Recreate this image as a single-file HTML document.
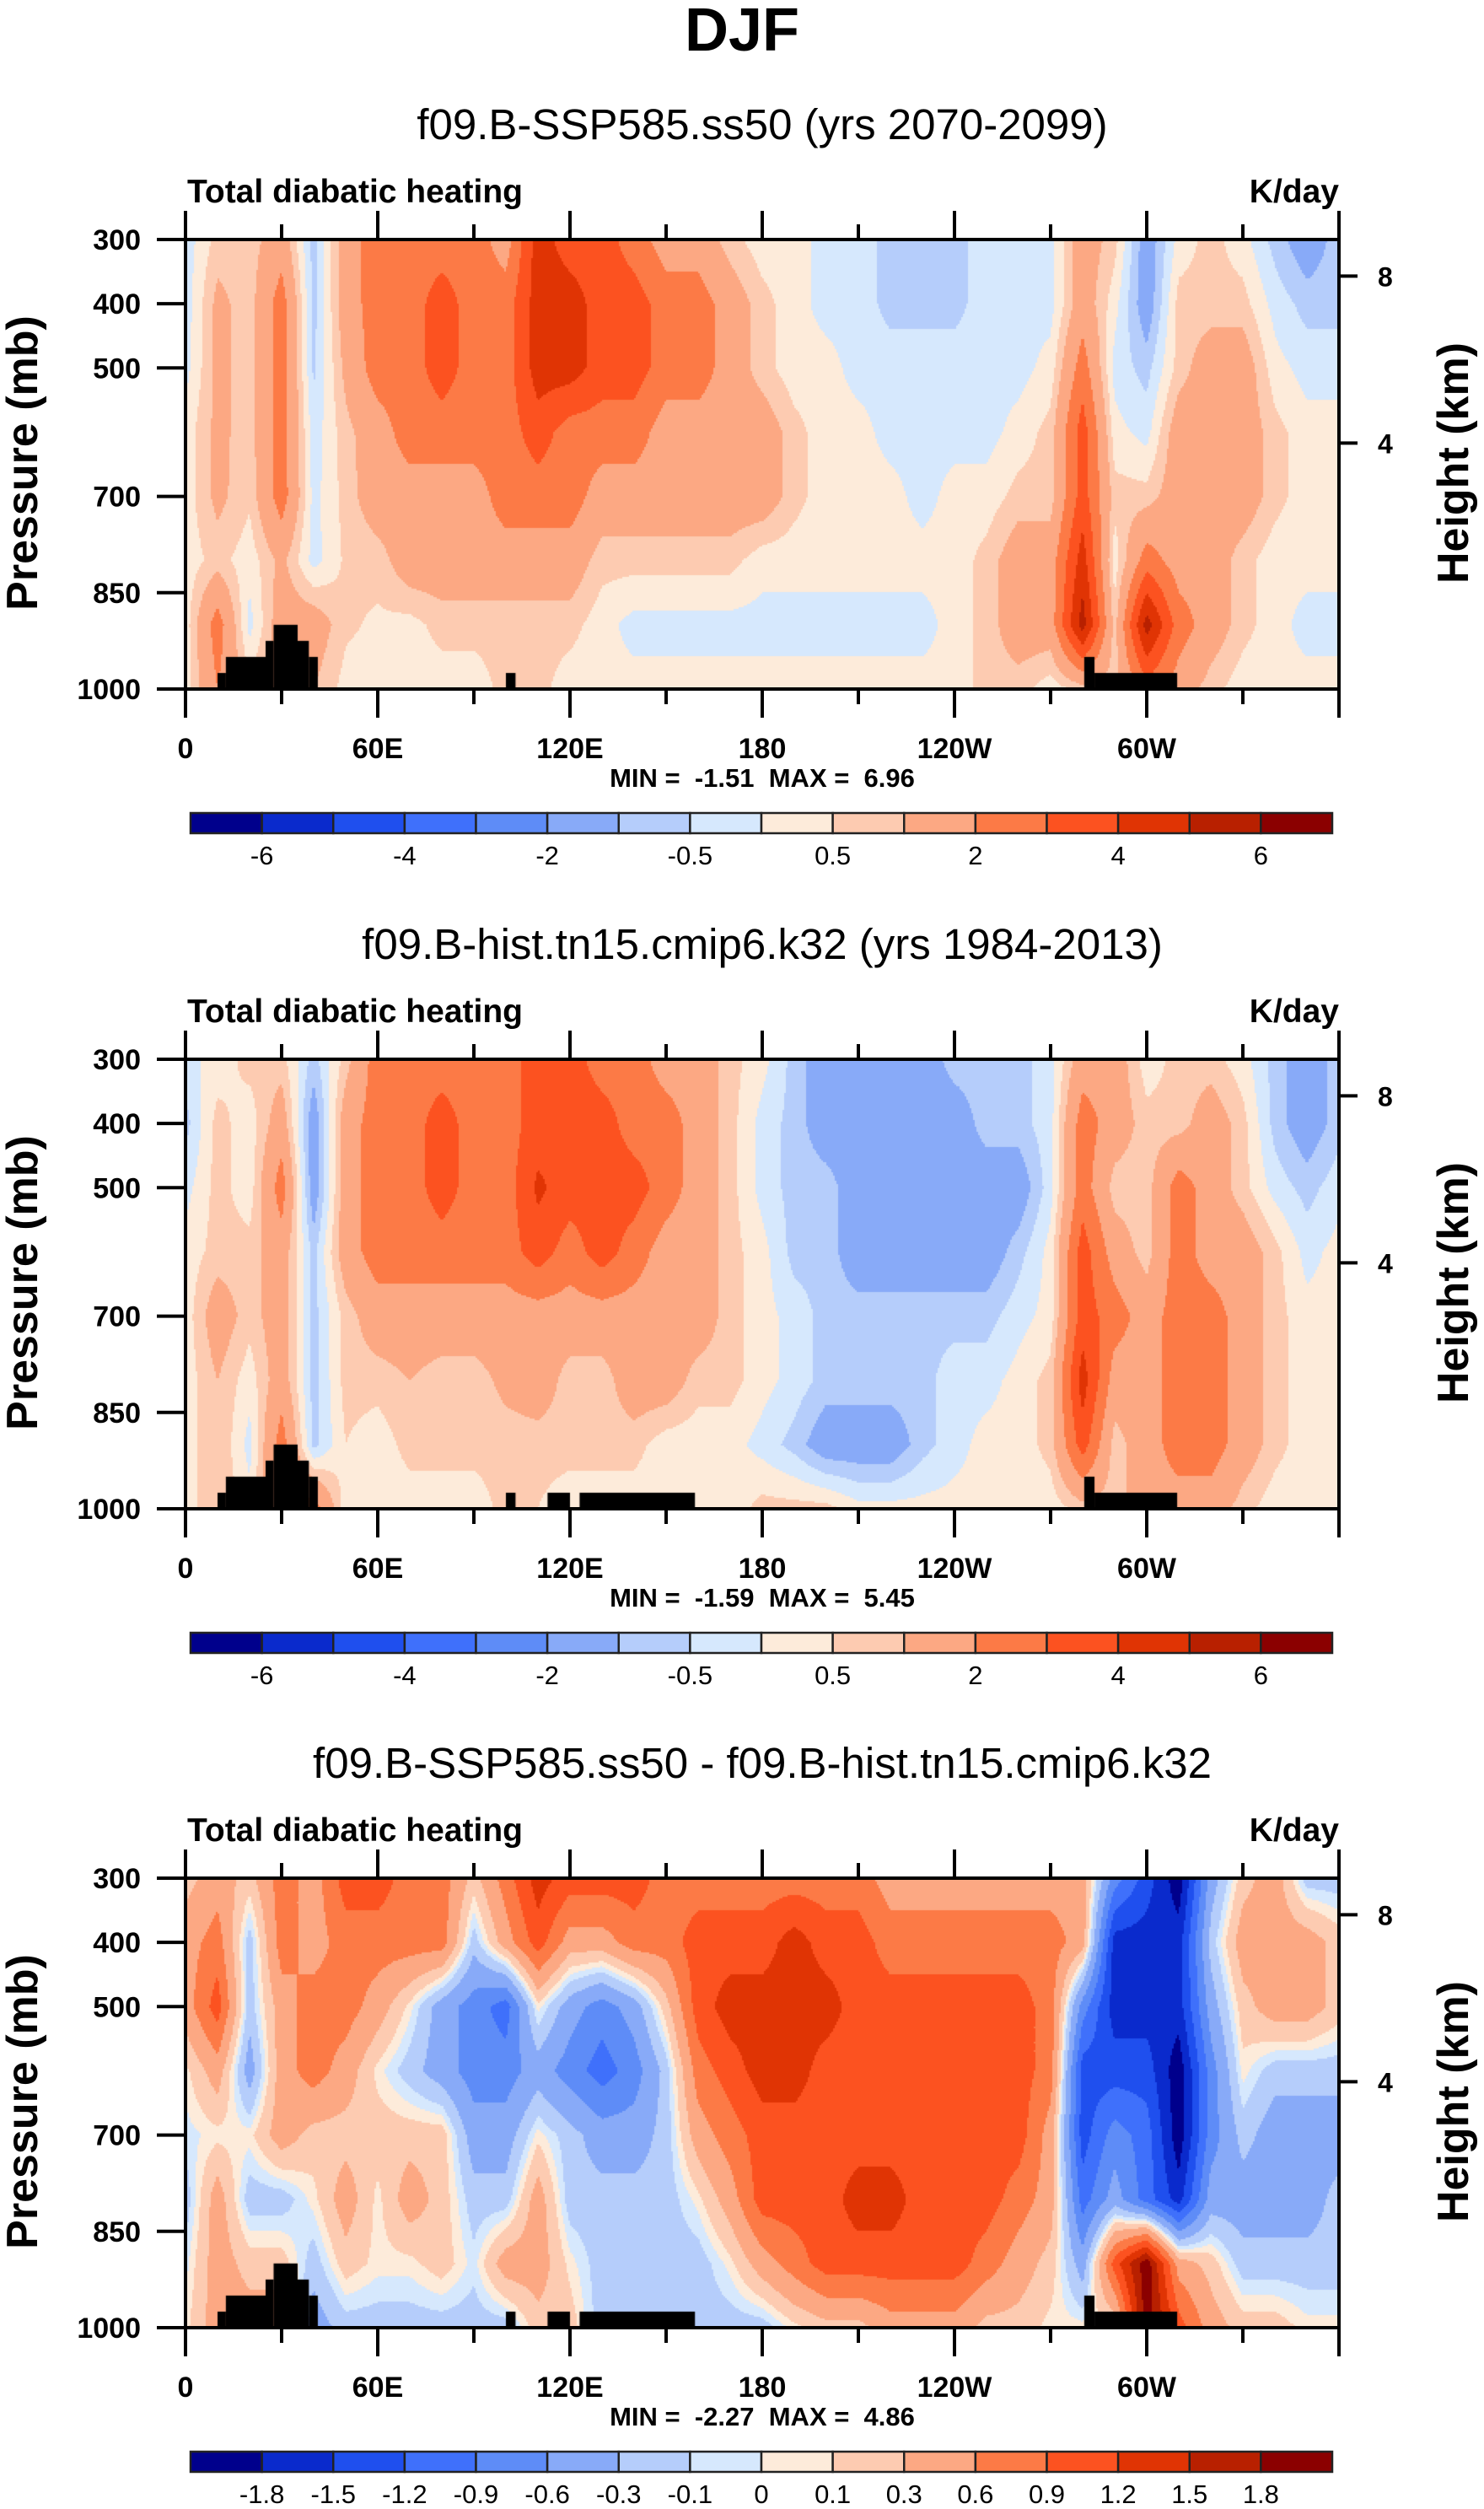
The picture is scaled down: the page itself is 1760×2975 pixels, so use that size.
<!DOCTYPE html>
<html><head><meta charset="utf-8">
<style>
html,body{margin:0;padding:0;background:#fff;}
body{width:1760px;height:2975px;position:relative;overflow:hidden;font-family:"Liberation Sans",sans-serif;}
canvas{position:absolute;}
svg{position:absolute;left:0;top:0;}
</style></head>
<body>
<canvas id="c0" width="1368" height="533" style="left:220px;top:284px"></canvas>
<canvas id="c1" width="1368" height="533" style="left:220px;top:1256px"></canvas>
<canvas id="c2" width="1368" height="533" style="left:220px;top:2227px"></canvas>
<svg id="ov" width="1760" height="2975"></svg>
<script>
const lons=[0,10,20,30,40,50,60,70,80,90,100,110,120,130,140,150,160,170,180,190,200,210,220,230,240,250,260,270,280,290,300,310,320,330,340,350,360];
const pres=[300,400,500,600,700,800,900,1000];
const levelsAbs=[-6,-5,-4,-3,-2,-1,-0.5,0,0.5,1,2,3,4,5,6];
const levelsDiff=[-1.8,-1.5,-1.2,-0.9,-0.6,-0.3,-0.1,0,0.1,0.3,0.6,0.9,1.2,1.5,1.8];
const tickAbs=["-6","-4","-2","-0.5","0.5","2","4","6"];
const tickAbsIdx=[0,2,4,6,8,10,12,14];
const tickDiff=["-1.8","-1.5","-1.2","-0.9","-0.6","-0.3","-0.1","0","0.1","0.3","0.6","0.9","1.2","1.5","1.8"];
const palette=["#00008c","#0a2acc","#1f4fee","#3f70fb","#5e8cf7","#88aaf8","#b5cdfb","#d6e8fd","#fdebda","#fdcbb1","#fca883","#fc7a46","#fc5220","#e03404","#b82000","#8b0000"];
const xTickLon=[0,60,120,180,240,300];
const xTickLbl=["0","60E","120E","180","120W","60W"];
const yTickP=[300,400,500,700,850,1000];
const hTickKm=["8","4"];
const hTickP=[357,617];
const subtitles=["f09.B-SSP585.ss50 (yrs 2070-2099)","f09.B-hist.tn15.cmip6.k32 (yrs 1984-2013)","f09.B-SSP585.ss50 - f09.B-hist.tn15.cmip6.k32"];
const minVals=["-1.51","-1.59","-2.27"];
const maxVals=["6.96","5.45","4.86"];
const topoA0=[10,12.6,25,27.5,35,38.5,100,280.5,283.7];
const topoA1=[12.6,25,27.5,35,38.5,41.3,103,283.7,309.5];
const topoAP=[975,950,925,900,925,950,975,950,975];
const topoB0=[10,12.6,25,27.5,35,38.5,100,113,123,280.5,283.7];
const topoB1=[12.6,25,27.5,35,38.5,41.3,103,120,159,283.7,309.5];
const topoBP=[975,950,925,900,925,950,975,975,975,950,975];
const fieldFuture=[
[-0.3,-0.3,-0.2,0.2,0.2,0.2,0.2,0.2],[0.7,1.2,1.2,1.2,1.2,0.7,2.5,2],[0.7,0.7,0.7,0.7,0.6,0.2,-0.2,0.7],
[1.5,2.5,2.5,2.5,2.5,1.2,1.5,1.5],[-0.7,-0.7,-0.6,-0.3,-0.2,-0.2,1.5,1],[1.5,1.5,1.2,0.8,0.7,0.6,0.6,0.3],
[2.5,2.5,2.5,1.5,1.5,0.7,0.4,0.2],[2.5,2.5,2.5,2.5,1.5,1.5,0.3,0.2],[2.5,3.5,3.5,2.5,1.5,1.5,0.7,0.2],
[2.5,2.5,2.5,2.5,1.5,1.5,0.7,0.2],[1.5,2.5,2.5,2.5,2.5,1.5,0.7,0.7],[4.5,4.5,4.5,3.5,2.5,1.5,0.7,0.7],
[3.5,4.5,4.5,2.5,2.5,1.5,0.7,0.2],[3.5,3.5,3.5,2.5,1.5,0.7,0.2,0.2],[2.5,3.5,3.5,2.5,1.5,0.7,-0.2,0.2],
[1.5,2.5,2.5,1.5,1.5,0.7,-0.2,0.2],[1.5,2.5,2.5,1.5,1.5,0.7,-0.2,0.2],[0.7,1.5,1.5,1.5,1.5,0.7,-0.2,0.2],
[0.2,0.7,0.7,1.5,1.5,0.2,-0.2,0.2],[0.2,0.2,0.2,0.7,0.7,0.2,-0.2,0.2],[-0.2,-0.2,0.2,0.2,0.2,0.2,-0.2,0.2],
[-0.2,-0.2,-0.2,0.2,0.2,0.2,-0.2,0.2],[-0.7,-0.7,-0.2,-0.2,0.2,0.2,-0.2,0.2],[-0.7,-0.7,-0.2,-0.2,-0.2,0.2,-0.2,0.2],
[-0.7,-0.7,-0.2,-0.2,0.2,0.2,0.2,0.2],[-0.2,-0.2,-0.2,-0.2,0.2,0.7,0.7,0.7],[-0.2,-0.2,-0.2,0.2,0.7,1.5,1.5,0.7],
[-0.2,-0.2,0.2,0.7,0.7,1.5,1.5,0.2],[1.5,1.5,2.5,3.5,3.5,4.5,5.5,0.7],[0.7,0.2,-0.2,0.2,0.7,0.2,0.7,0.7],
[-1.5,-1.5,-0.7,-0.2,0.7,2.5,5.5,2.5],[0.2,0.7,0.7,1.5,1.5,1.5,2.5,1.5],[0.7,0.7,1.5,1.5,1.5,1.5,1.5,0.7],
[0.2,0.7,1.5,1.5,1.5,0.7,0.7,0.2],[-0.7,-0.2,0.2,0.7,0.7,0.2,0.2,0.2],[-1.5,-0.7,-0.2,0.2,0.2,0.2,-0.2,0.2],
[-0.7,-0.7,-0.2,0.2,0.2,0.2,-0.2,0.2]];
const fieldHist=[
[-0.2,-0.7,-0.2,0.2,0.2,0.2,0.2,0.2],[0.2,0.7,0.7,0.7,1.5,1,1,1],[0.7,0.2,0.2,0.7,0.7,0.2,-0.2,0.2],
[0.7,1.5,2.5,1.5,1.5,1.5,2.5,2],[-0.7,-1.5,-1.5,-0.7,-0.7,-0.7,-0.7,2.5],[0.7,1.5,1.5,1.5,0.7,0.7,0.5,0.2],
[2.5,2.5,2.5,2.5,1.5,0.7,0.2,0.2],[2.5,2.5,2.5,2.5,1.5,1.0,0.7,0.2],[2.5,3.5,3.5,2.5,1.5,0.7,0.7,0.2],
[2.5,2.5,2.5,2.5,1.5,0.7,0.7,0.2],[2.5,2.5,2.5,2.5,1.5,1.2,0.7,0.7],[3.5,3.5,4.2,3.5,1.5,1.5,0.7,0.5],
[3.5,3.5,3.5,2.5,1.5,0.7,0.7,0.2],[2.5,3.5,3.5,3.5,1.5,0.7,0.7,0.2],[2.5,2.5,3.5,2.5,1.5,1.5,0.7,0.2],
[1.5,2.5,2.5,1.5,1.5,1.5,0.2,0.2],[1.5,1.5,1.5,1.5,1.5,0.7,0.2,0.2],[0.7,0.7,0.7,0.7,0.7,0.7,0.2,0.2],
[0.2,-0.2,-0.2,0.2,0.2,0.2,-0.2,0.7],[-0.7,-0.7,-0.7,-0.7,-0.2,-0.2,-0.7,0.7],[-1.5,-1.5,-0.7,-0.7,-0.7,-0.7,-1.5,0.7],
[-1.5,-1.5,-1.5,-1.5,-0.7,-0.7,-1.5,0.2],[-1.5,-1.5,-1.5,-1.5,-0.7,-0.7,-1.5,0.2],[-1.5,-1.5,-1.5,-1.5,-0.7,-0.7,-0.7,0.2],
[-0.7,-1.5,-1.5,-1.5,-0.7,-0.2,-0.2,0.2],[-0.7,-0.7,-1.5,-1.5,-0.7,-0.2,0.2,0.2],[-0.7,-0.7,-1.5,-0.7,-0.2,0.2,0.2,0.2],
[-0.2,-0.2,-0.2,0.2,0.2,0.7,0.7,0.2],[1.5,2.5,2.5,3.5,3.5,4.5,3.5,0.7],[1.5,1.5,0.7,1.5,2.5,1.5,0.7,0.7],
[0.2,0.7,0.7,0.7,1.5,1.5,1.5,1.5],[0.7,0.7,2.5,2.5,2.5,2.5,2.5,1.5],[0.7,1.5,1.5,1.5,2.5,2.5,2.5,1.5],
[0.2,0.7,0.7,1.5,1.5,1.5,1.5,0.7],[-0.7,-0.7,-0.2,0.7,0.7,0.7,0.7,0.2],[-1.5,-1.5,-0.7,-0.2,0.2,0.2,0.2,0.2],
[-0.7,-0.7,-0.2,0.2,0.2,0.2,0.2,0.2]];
const fieldDiff=[
[0.2,0.45,0.45,0.05,-0.05,-0.2,-0.05,0.05],[0.45,0.75,1.05,0.45,0.05,0.45,0.45,0.45],[0.2,-0.2,-0.2,-0.45,0.05,-0.2,0.2,0.45],
[0.75,0.75,0.45,0.45,0.45,-0.2,0.2,0.45],[0.45,0.45,0.75,0.75,0.2,0.05,-0.2,-0.45],[1.05,0.75,0.75,0.45,0.2,0.45,0.2,-0.2],
[1.05,0.75,0.45,0.05,0.2,0.05,0.05,-0.2],[0.75,0.75,0.05,-0.2,0.2,0.45,0.05,-0.2],[0.75,0.75,-0.45,-0.45,0.2,0.2,0.2,-0.2],
[0.2,-0.2,-0.75,-0.75,-0.45,-0.2,-0.05,-0.2],[0.75,0.45,-1.05,-0.75,-0.45,-0.2,0.45,-0.2],[1.35,1.05,0.05,-0.45,0.05,0.45,0.45,0.2],
[1.05,0.45,-0.45,-0.75,-0.2,-0.2,0.05,0.2],[1.05,0.45,-0.75,-1.05,-0.45,-0.2,-0.2,-0.2],[1.05,0.75,-0.45,-0.75,-0.45,-0.2,-0.2,-0.2],
[0.75,0.75,0.2,-0.2,-0.2,-0.2,-0.2,-0.2],[0.75,1.05,1.05,0.75,0.45,0.05,-0.2,-0.2],[0.75,1.05,1.35,1.05,0.75,0.45,0.05,-0.2],
[0.75,1.05,1.35,1.35,1.05,1.05,0.45,-0.2],[0.75,1.35,1.35,1.35,1.05,1.05,0.75,0.05],[0.75,1.05,1.35,1.05,1.05,1.05,1.05,0.2],
[0.75,1.05,1.05,1.05,1.05,1.35,1.05,0.2],[0.45,0.75,1.05,1.05,1.05,1.35,1.05,0.45],[0.45,0.75,1.05,1.05,1.05,1.05,1.05,0.45],
[0.45,0.75,1.05,1.05,1.05,1.05,1.05,0.45],[0.45,0.75,1.05,1.05,1.05,1.05,0.75,0.2],[0.45,0.75,1.05,1.05,1.05,0.75,0.45,0.2],
[0.45,0.75,0.75,0.75,0.45,0.45,0.2,0.05],[0.45,0.45,-0.75,-1.35,-1.35,-1.05,-0.45,0.05],[-0.75,-1.65,-1.65,-1.35,-0.75,-0.45,1.05,0.05],
[-1.35,-1.65,-1.65,-1.35,-1.05,-1.05,2.0,2.0],[-2.0,-1.65,-1.65,-2.0,-2.0,-1.65,0.45,1.05],[-0.45,-0.2,-0.45,-0.75,-0.75,-0.45,0.2,0.45],
[0.2,0.45,0.2,0.05,-0.2,-0.45,-0.2,0.2],[0.45,0.45,0.45,-0.2,-0.45,-0.45,-0.2,0.2],[-0.2,0.45,0.45,-0.2,-0.45,-0.45,-0.2,0.05],
[-0.2,0.2,0.2,-0.2,-0.45,-0.2,-0.2,0.05]];

const PX=220, PW=1368, PH=533;
const panelTop=[284,1256,2227];
const xScale=lon=>PX+lon/360*PW;
const yScale=(p,top)=>top+(p-300)/700*PH;
function colorIdx(v,lev){let i=0;for(const l of lev){if(v>=l)i++;}return i;}
function sample(field,lon,p){
  let fi=lon/10; let i=Math.min(Math.floor(fi),35); let tx=fi-i;
  let fj=(p-300)/100; let j=Math.min(Math.floor(fj),6); let ty=fj-j;
  const a=field[i][j],b=field[i+1][j],c=field[i][j+1],d=field[i+1][j+1];
  return (a*(1-tx)+b*tx)*(1-ty)+(c*(1-tx)+d*tx)*ty;
}
function drawField(id,field,lev,t0,t1,tp){
  const ctx=document.getElementById(id).getContext('2d');
  const B=2;
  for(let x=0;x<PW;x+=B){for(let y=0;y<PH;y+=B){
    const lon=(x+1)/PW*360,p=300+(y+1)/PH*700;
    ctx.fillStyle=palette[colorIdx(sample(field,lon,p),lev)];
    ctx.fillRect(x,y,B,B);}}
  ctx.fillStyle="#000";
  for(let k=0;k<t0.length;k++){
    const x0=t0[k]/360*PW,x1=t1[k]/360*PW,y0=(tp[k]-300)/700*PH;
    ctx.fillRect(x0,y0,x1-x0,PH-y0);}
}
drawField('c0',fieldFuture,levelsAbs,topoA0,topoA1,topoAP);
drawField('c1',fieldHist,levelsAbs,topoB0,topoB1,topoBP);
drawField('c2',fieldDiff,levelsDiff,topoB0,topoB1,topoBP);

const NS="http://www.w3.org/2000/svg";
const ov=document.getElementById('ov');
function mk(tag,attrs,txt){
  const e=document.createElementNS(NS,tag);
  for(const k in attrs)e.setAttribute(k,attrs[k]);
  if(txt!==undefined)e.textContent=txt;
  ov.appendChild(e);return e;
}
const title=mk('text',{x:880,y:60,'text-anchor':'middle','font-size':72,'font-weight':'bold'},'DJF');


for(let k=0;k<3;k++){
  const T=panelTop[k], off=T-284;
  const st=mk('text',{x:904,y:165+off,'text-anchor':'middle','font-size':51},subtitles[k]);
  
  
  const lt=mk('text',{x:222,y:240+off,'font-size':39,'font-weight':'bold'},'Total diabatic heating');
  
  
  const ut=mk('text',{x:1588,y:240+off,'text-anchor':'end','font-size':39,'font-weight':'bold'},'K/day');
  
  
  const fr=mk('rect',{x:PX,y:T,width:PW,height:PH,fill:'none',stroke:'#000','stroke-width':4});
  
  
  for(let lon=0;lon<=360;lon+=30){
    const major=lon%60===0, x=xScale(lon), L=major?34:18;
    const tb=mk('line',{x1:x,x2:x,y1:T+PH,y2:T+PH+L,stroke:'#000','stroke-width':4});
    
    
    const tt=mk('line',{x1:x,x2:x,y1:T,y2:T-L,stroke:'#000','stroke-width':4});
    
    
  }
  xTickLon.forEach((lon,i)=>{
    const t=mk('text',{x:xScale(lon),y:T+615,'text-anchor':'middle','font-size':34,'font-weight':'bold'},xTickLbl[i]);
    
    
  });
  yTickP.forEach(p=>{
    const y=yScale(p,T);
    const l=mk('line',{x1:PX-34,x2:PX,y1:y,y2:y,stroke:'#000','stroke-width':4});
    
    
    const t=mk('text',{x:167,y:y+12,'text-anchor':'end','font-size':34,'font-weight':'bold'},String(p));
    
    
  });
  hTickP.forEach((p,i)=>{
    const y=yScale(p,T);
    const l=mk('line',{x1:PX+PW,x2:PX+PW+22,y1:y,y2:y,stroke:'#000','stroke-width':4});
    
    
    const t=mk('text',{x:1634,y:y+12,'font-size':32,'font-weight':'bold'},hTickKm[i]);
    
    
  });
  const ya=mk('text',{x:0,y:0,'text-anchor':'middle','font-size':52,'font-weight':'bold',transform:`translate(44,${T+265}) rotate(-90)`},'Pressure (mb)');
  
  
  const ha=mk('text',{x:0,y:0,'text-anchor':'middle','font-size':52,'font-weight':'bold',transform:`translate(1741,${T+265}) rotate(-90)`},'Height (km)');
  
  
  const mm=mk('text',{x:904,y:T+649,'text-anchor':'middle','font-size':31,'font-weight':'bold'},'MIN =\u00a0\u00a0'+minVals[k]+'\u00a0\u00a0MAX =\u00a0\u00a0'+maxVals[k]);
  
  
  const CB=T+680, cx0=226, cw=(1580-226)/16;
  for(let i=0;i<16;i++){
    const r=mk('rect',{x:cx0+i*cw,y:CB,width:cw,height:24,fill:palette[i],stroke:'#222','stroke-width':2.5});
    
    
  }
  if(k<2){
    tickAbs.forEach((s,i)=>{
      const t=mk('text',{x:cx0+(tickAbsIdx[i]+1)*cw,y:CB+61,'text-anchor':'middle','font-size':31},s);
      
      
    });
  } else {
    tickDiff.forEach((s,i)=>{
      const t=mk('text',{x:cx0+(i+1)*cw,y:CB+61,'text-anchor':'middle','font-size':31},s);
      
      
    });
  }
}
</script>
</body></html>
